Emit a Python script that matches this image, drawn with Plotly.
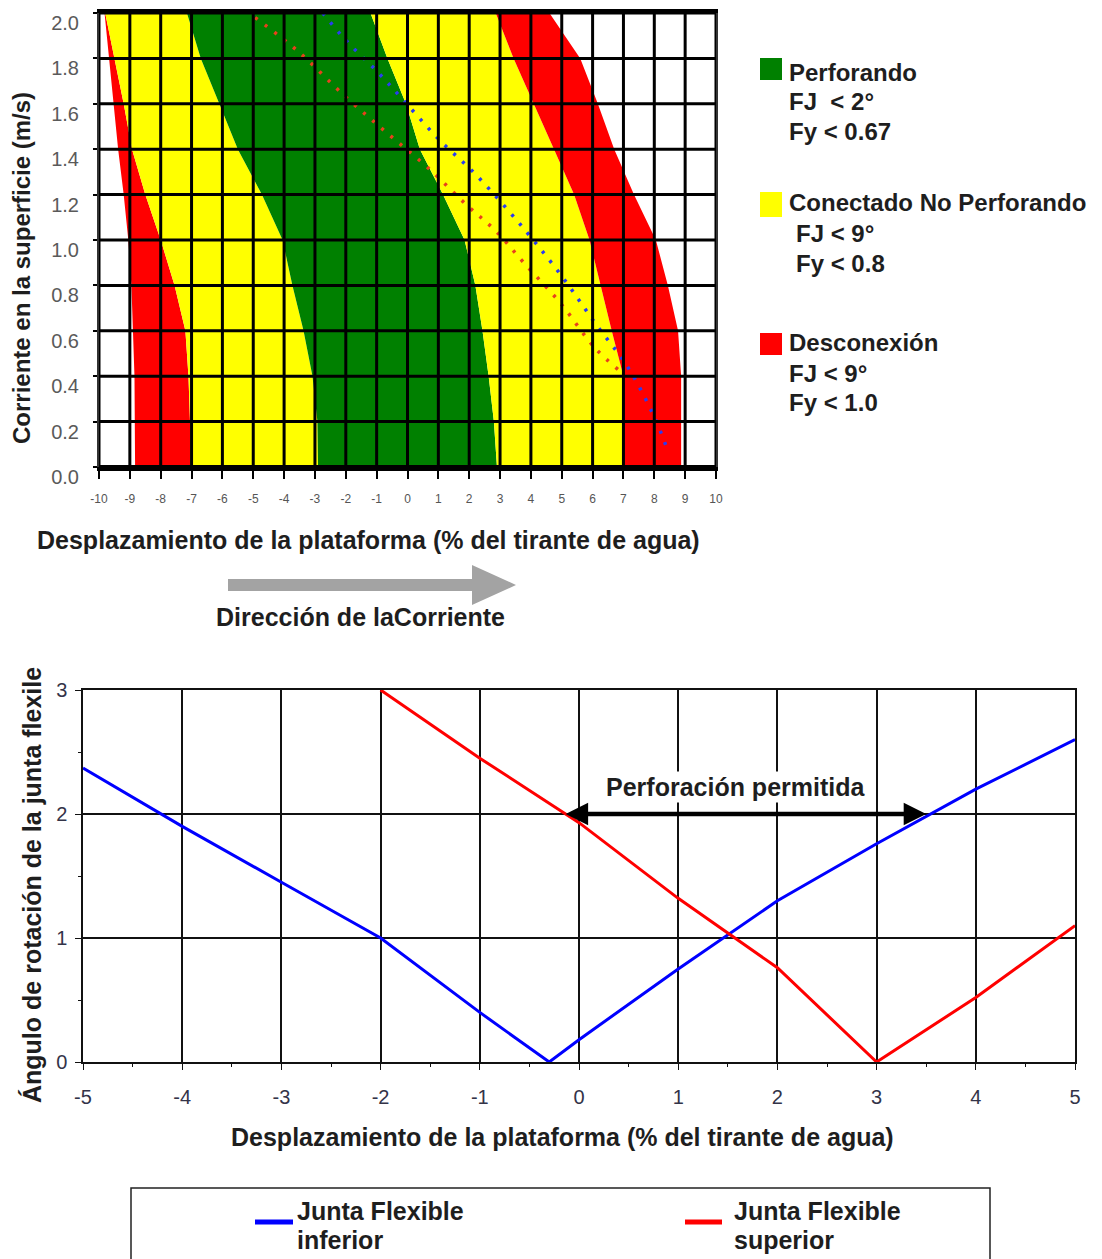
import plotly.graph_objects as go

W, H = 1102, 1259
OFF = 8  # page body margin of the browser

# ---------------- top chart data ----------------
current_y = [0.0, 0.2, 0.4, 0.6, 0.8, 1.0, 1.2, 1.4, 1.6, 1.8, 2.0]
red_left_outer = [-8.83, -8.83, -8.85, -8.9, -8.95, -9.05, -9.2, -9.38, -9.52, -9.66, -9.82]
red_left_inner = [-7.05, -7.05, -7.1, -7.2, -7.55, -8.0, -8.5, -8.93, -9.2, -9.5, -9.8]
green_left = [-2.9, -2.92, -3.08, -3.37, -3.73, -4.05, -4.72, -5.5, -6.1, -6.7, -7.15]
green_right = [2.9, 2.8, 2.63, 2.43, 2.2, 1.85, 1.15, 0.4, -0.05, -0.65, -1.2]
yellow_right = [7.0, 7.0, 7.0, 6.62, 6.27, 5.9, 5.4, 4.74, 4.1, 3.44, 2.86]
red_right = [8.87, 8.87, 8.87, 8.77, 8.44, 8.05, 7.34, 6.7, 6.17, 5.6, 4.6]

blue_dot_x = [-2.75, -2.0, -0.97, -0.16, 0.97, 2.27, 3.83, 5.06, 6.1, 7.14, 8.0, 8.47]
blue_dot_y = [2.0, 1.88, 1.74, 1.62, 1.45, 1.28, 1.04, 0.83, 0.63, 0.44, 0.22, 0.06]
red_dot_x = [-4.94, -3.54, -2.0, -0.65, 0.65, 1.95, 2.86, 3.77, 4.97, 6.04, 6.82]
red_dot_y = [1.98, 1.83, 1.63, 1.47, 1.32, 1.15, 1.04, 0.90, 0.72, 0.53, 0.43]

top_x_ticks = list(range(-10, 11))
top_y_ticks = [0.0, 0.2, 0.4, 0.6, 0.8, 1.0, 1.2, 1.4, 1.6, 1.8, 2.0]
top_y_labels = ["0.0", "0.2", "0.4", "0.6", "0.8", "1.0", "1.2", "1.4", "1.6", "1.8", "2.0"]

# ---------------- bottom chart data ----------------
blue_x = [-5, -4, -3, -2, -1, -0.3, 0, 1, 2, 3, 4, 5]
blue_y = [2.37, 1.9, 1.45, 1.0, 0.4, 0.0, 0.18, 0.75, 1.3, 1.76, 2.2, 2.6]
red_x = [-2, -1, 0, 1, 2, 3, 4, 5]
red_y = [3.0, 2.45, 1.93, 1.32, 0.76, 0.0, 0.52, 1.1]
bottom_x_ticks = [-5, -4, -3, -2, -1, 0, 1, 2, 3, 4, 5]
bottom_y_ticks = [0, 1, 2, 3]
permit_range = [-0.15, 3.5]
permit_level = 2.0

GREEN, YELLOW, RED = "#008000", "#ffff00", "#ff0000"
FONT = "Arial, Liberation Sans, sans-serif"
TXT = "#1e1e1e"


def px(x):
    return (x - OFF) / W


def py(y):
    return 1 - (y - OFF) / H


fig = go.Figure()

# bands (filled horizontally between successive boundaries)
bands = [
    (red_left_outer, None),
    (red_left_inner, RED),
    (green_left, YELLOW),
    (green_right, GREEN),
    (yellow_right, YELLOW),
    (red_right, RED),
]
for xs, col in bands:
    fig.add_trace(go.Scatter(
        x=xs, y=current_y, mode="lines", line=dict(width=0, color=col or "white"),
        fill="tonextx" if col else None, fillcolor=col, hoverinfo="skip",
        showlegend=False, xaxis="x", yaxis="y"))

fig.add_trace(go.Scatter(x=red_dot_x, y=red_dot_y, mode="lines",
                         line=dict(color="#e8401c", width=3.5, dash="3px,9px", shape="spline"),
                         showlegend=False, xaxis="x", yaxis="y"))
fig.add_trace(go.Scatter(x=blue_dot_x, y=blue_dot_y, mode="lines",
                         line=dict(color="#2a3cf0", width=3.5, dash="3px,9px", shape="spline"),
                         showlegend=False, xaxis="x", yaxis="y"))

# bottom chart lines
fig.add_trace(go.Scatter(x=blue_x, y=blue_y, mode="lines", name="Junta Flexible inferior",
                         line=dict(color="#0000ff", width=3), showlegend=False,
                         xaxis="x2", yaxis="y2"))
fig.add_trace(go.Scatter(x=red_x, y=red_y, mode="lines", name="Junta Flexible superior",
                         line=dict(color="#ff0000", width=3), showlegend=False,
                         xaxis="x2", yaxis="y2"))

shapes = []
# grid on top of colored bands
for xv in top_x_ticks:
    shapes.append(dict(type="line", xref="x", yref="y", x0=xv, x1=xv, y0=0, y1=2.0,
                       line=dict(color="black", width=3), layer="above"))
for yv in top_y_ticks:
    shapes.append(dict(type="line", xref="x", yref="y", x0=-10, x1=10, y0=yv, y1=yv,
                       line=dict(color="black", width=4 if yv == 0 else 3), layer="above"))

# top legend squares
for (y0, y1, col) in [(58, 80, GREEN), (192, 217, YELLOW), (333, 355, RED)]:
    shapes.append(dict(type="rect", xref="paper", yref="paper",
                       x0=px(760), x1=px(782), y0=py(y1), y1=py(y0),
                       fillcolor=col, line=dict(width=0)))

# current direction arrow
arrow_pts = [(228, 579), (472, 579), (472, 565), (516, 585), (472, 605), (472, 591), (228, 591)]
path = "M " + " L ".join(f"{px(a):.5f},{py(b):.5f}" for a, b in arrow_pts) + " Z"
shapes.append(dict(type="path", xref="paper", yref="paper", path=path,
                   fillcolor="#a3a3a3", line=dict(width=0)))

# bottom legend box
shapes.append(dict(type="rect", xref="paper", yref="paper",
                   x0=px(131), x1=px(990), y0=py(1264), y1=py(1188),
                   line=dict(color="#222", width=1.5), fillcolor="white"))
shapes.append(dict(type="line", xref="paper", yref="paper", x0=px(255), x1=px(293),
                   y0=py(1222), y1=py(1222), line=dict(color="#0000ff", width=5)))
shapes.append(dict(type="line", xref="paper", yref="paper", x0=px(685), x1=px(722),
                   y0=py(1222), y1=py(1222), line=dict(color="#ff0000", width=5)))

ann = []


def text(x, y, s, size=24, anchor="left", bold=True, rot=0, color=TXT, **kw):
    ann.append(dict(x=px(x), y=py(y), xref="paper", yref="paper", text=s, showarrow=False,
                    xanchor=anchor, yanchor="middle", textangle=rot, borderpad=0,
                    font=dict(family=FONT, size=size, color=color,
                              weight="bold" if bold else "normal"), **kw))


# top legend text
text(788, 72, "Perforando")
text(788, 102, "FJ  &lt; 2°")
text(788, 131, "Fy &lt; 0.67")
text(788, 202, "Conectado No Perforando")
text(795, 233, "FJ &lt; 9°")
text(795, 263, "Fy &lt; 0.8")
text(788, 343, "Desconexión")
text(788, 373, "FJ &lt; 9°")
text(788, 402, "Fy &lt; 1.0")

# top axis titles
text(22, 268, "Corriente en la superficie (m/s)", 24, anchor="center", rot=-90)
text(368, 540, "Desplazamiento de la plataforma (% del tirante de agua)", 25, anchor="center")
text(360, 617, "Dirección de laCorriente", 25, anchor="center")

# bottom axis titles
text(32, 885, "Ángulo de rotación de la junta flexile", 25, anchor="center", rot=-90)
text(562, 1137, "Desplazamiento de la plataforma (% del tirante de agua)", 25, anchor="center")

# bottom legend text
text(296, 1211, "Junta Flexible", 25)
text(296, 1240, "inferior", 25)
text(733, 1211, "Junta Flexible", 25)
text(733, 1240, "superior", 25)

# allowed drilling arrow
ann.append(dict(x=permit_range[1], y=permit_level, ax=permit_range[0], ay=permit_level,
                xref="x2", yref="y2", axref="x2", ayref="y2", text="", showarrow=True,
                arrowhead=2, startarrowhead=2, arrowside="end+start", arrowsize=1,
                arrowwidth=4.5, arrowcolor="black", startarrowsize=1))
ann.append(dict(x=1.58, y=2.22, xref="x2", yref="y2",
                text="Perforación permitida", showarrow=False, bgcolor="white",
                font=dict(family=FONT, size=25, color=TXT, weight="bold")))

common = dict(automargin=False, zeroline=False, fixedrange=True, ticklabeloverflow="allow")

fig.update_layout(
    width=W, height=H, margin=dict(l=0, r=0, t=0, b=0, autoexpand=False),
    paper_bgcolor="white", plot_bgcolor="white", showlegend=False,
    shapes=shapes, annotations=ann,
    xaxis=dict(domain=[px(99), px(716)], range=[-10, 10], tickvals=top_x_ticks,
               ticktext=[str(v) for v in top_x_ticks], showgrid=False,
               showline=True, linecolor="black", linewidth=4, mirror=True,
               ticks="outside", ticklen=8, tickwidth=2, tickcolor="black",
               ticklabelstandoff=10,
               tickfont=dict(family=FONT, size=12, color="#555"), anchor="y", **common),
    yaxis=dict(domain=[py(467), py(13)], range=[0, 2.0], tickvals=top_y_ticks,
               ticktext=top_y_labels, showgrid=False,
               showline=True, linecolor="#333", linewidth=2, mirror=True,
               ticks="outside", ticklen=4, tickwidth=2, tickcolor="black",
               ticklabelstandoff=10, ticklabelshift=10,
               tickfont=dict(family=FONT, size=20, color="#5a5a5a"), anchor="x", **common),
    xaxis2=dict(domain=[px(83), px(1075)], range=[-5, 5], tickvals=bottom_x_ticks,
                ticktext=[str(v) for v in bottom_x_ticks],
                showgrid=True, gridcolor="#111", gridwidth=1.5,
                showline=True, linecolor="#111", linewidth=1.5, mirror=True,
                ticks="outside", ticklen=6, tickcolor="#111", ticklabelstandoff=10,
                minor=dict(dtick=0.5, ticks="outside", ticklen=3, tickcolor="#111", showgrid=False),
                tickfont=dict(family=FONT, size=20, color="#333348"), anchor="y2", **common),
    yaxis2=dict(domain=[py(1062), py(690)], range=[0, 3], tickvals=bottom_y_ticks,
                showgrid=True, gridcolor="#111", gridwidth=1.5,
                showline=True, linecolor="#111", linewidth=1.5, mirror=True,
                ticks="outside", ticklen=6, tickcolor="#111", ticklabelstandoff=4,
                minor=dict(dtick=0.5, ticks="outside", ticklen=3, tickcolor="#111", showgrid=False),
                tickfont=dict(family=FONT, size=20, color="#333348"), anchor="x2", **common),
)

fig.write_html("out.html")
